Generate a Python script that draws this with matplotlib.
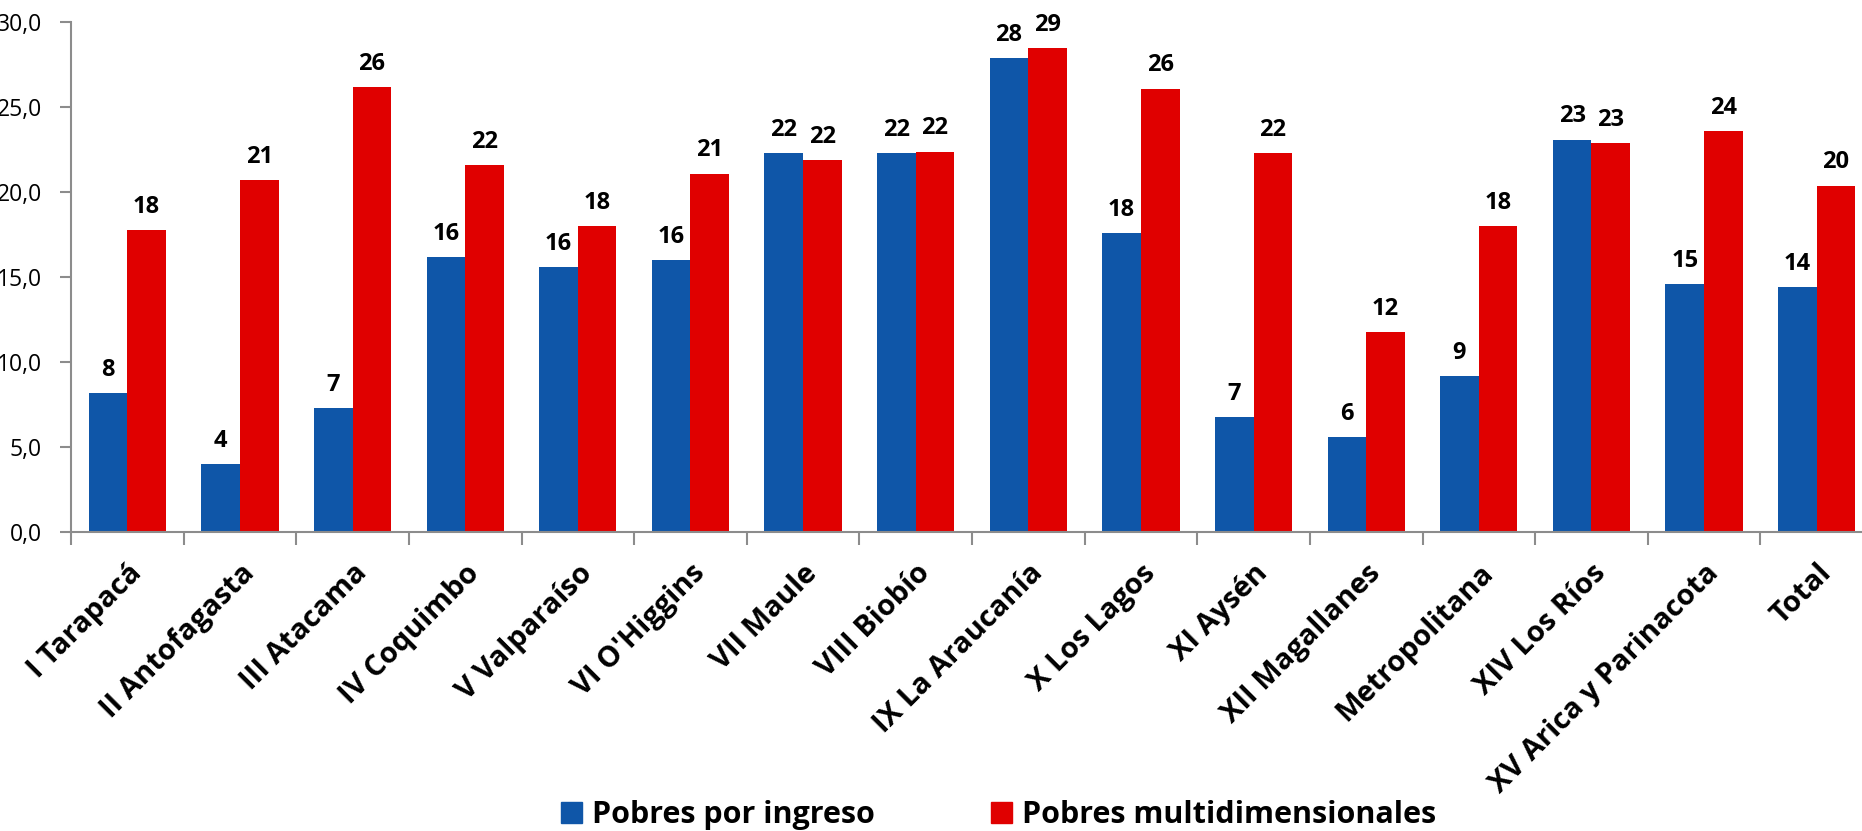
import numpy as np
import matplotlib.pyplot as plt
from matplotlib.patches import Patch
from matplotlib.transforms import ScaledTranslation

# regiones y porcentaje de pobreza
regiones = ['I Tarapacá', 'II Antofagasta', 'III Atacama', 'IV Coquimbo', 'V Valparaíso',
            "VI O'Higgins", 'VII Maule', 'VIII Biobío', 'IX La Araucanía', 'X Los Lagos',
            'XI Aysén', 'XII Magallanes', 'Metropolitana', 'XIV Los Ríos',
            'XV Arica y Parinacota', 'Total']
pobres_ingreso = [8.2, 4.0, 7.3, 16.2, 15.6, 16.0, 22.3, 22.3, 27.9, 17.6,
                  6.8, 5.6, 9.2, 23.1, 14.6, 14.4]
pobres_multi = [17.8, 20.7, 26.2, 21.6, 18.0, 21.1, 21.9, 22.4, 28.5, 26.1,
                22.3, 11.8, 18.0, 22.9, 23.6, 20.4]
yticks = [0, 5, 10, 15, 20, 25, 30]

azul = '#0F56A8'
rojo = '#E00000'
gris = '#8C8C8C'

plt.rcParams['font.family'] = ['Open Sans', 'DejaVu Sans']

fig = plt.figure(figsize=(18.62, 8.31), dpi=100)
ax = fig.add_axes([71/1862, 298.7/831, 1802/1862, 510/831])

x = np.arange(len(regiones))
w = 0.343
b1 = ax.bar(x - w/2, pobres_ingreso, w, color=azul)
b2 = ax.bar(x + w/2, pobres_multi, w, color=rojo)

for bars, vals in [(b1, pobres_ingreso), (b2, pobres_multi)]:
    for r, v in zip(bars, vals):
        ax.annotate('%d' % int(v + 0.5), (r.get_x() + r.get_width()/2, v),
                    xytext=(0, 8), textcoords='offset points',
                    ha='center', va='bottom', fontsize=17, fontweight='bold')

ax.set_xlim(-0.5, len(regiones) - 0.5)
ax.set_ylim(0, 30)
ax.set_yticks(yticks)
ax.set_yticklabels(['%d,0' % t for t in yticks], fontsize=16.5)

ax.set_xticks(x)
ax.set_xticklabels(regiones, rotation=45, ha='right', va='top', rotation_mode='anchor',
                   fontsize=21, fontweight='bold')
shift = ScaledTranslation(-12/100, 0, fig.dpi_scale_trans)
for lab in ax.get_xticklabels():
    lab.set_transform(lab.get_transform() + shift)
ax.set_xticks(np.arange(-0.5, len(regiones) - 0.4, 1), minor=True)
ax.tick_params(axis='x', which='major', length=0, pad=19)
ax.tick_params(axis='x', which='minor', length=9, width=1.5, color=gris, direction='out')
ax.tick_params(axis='y', length=8, width=1.5, color=gris, pad=13)

for s in ['top', 'right']:
    ax.spines[s].set_visible(False)
for s in ['left', 'bottom']:
    ax.spines[s].set_color(gris)
    ax.spines[s].set_linewidth(1.5)

handles = [Patch(color=azul, label='Pobres por ingreso'),
           Patch(color=rojo, label='Pobres multidimensionales')]
fig.legend(handles=handles, loc='center left', bbox_to_anchor=(561/1862, 1 - 815/831),
           ncol=2, frameon=False, handlelength=0.69, handleheight=0.69, handletextpad=0.33,
           columnspacing=3.8, borderaxespad=0, borderpad=0,
           prop={'weight': 'bold', 'size': 22})

plt.savefig('out.png', dpi=100)
